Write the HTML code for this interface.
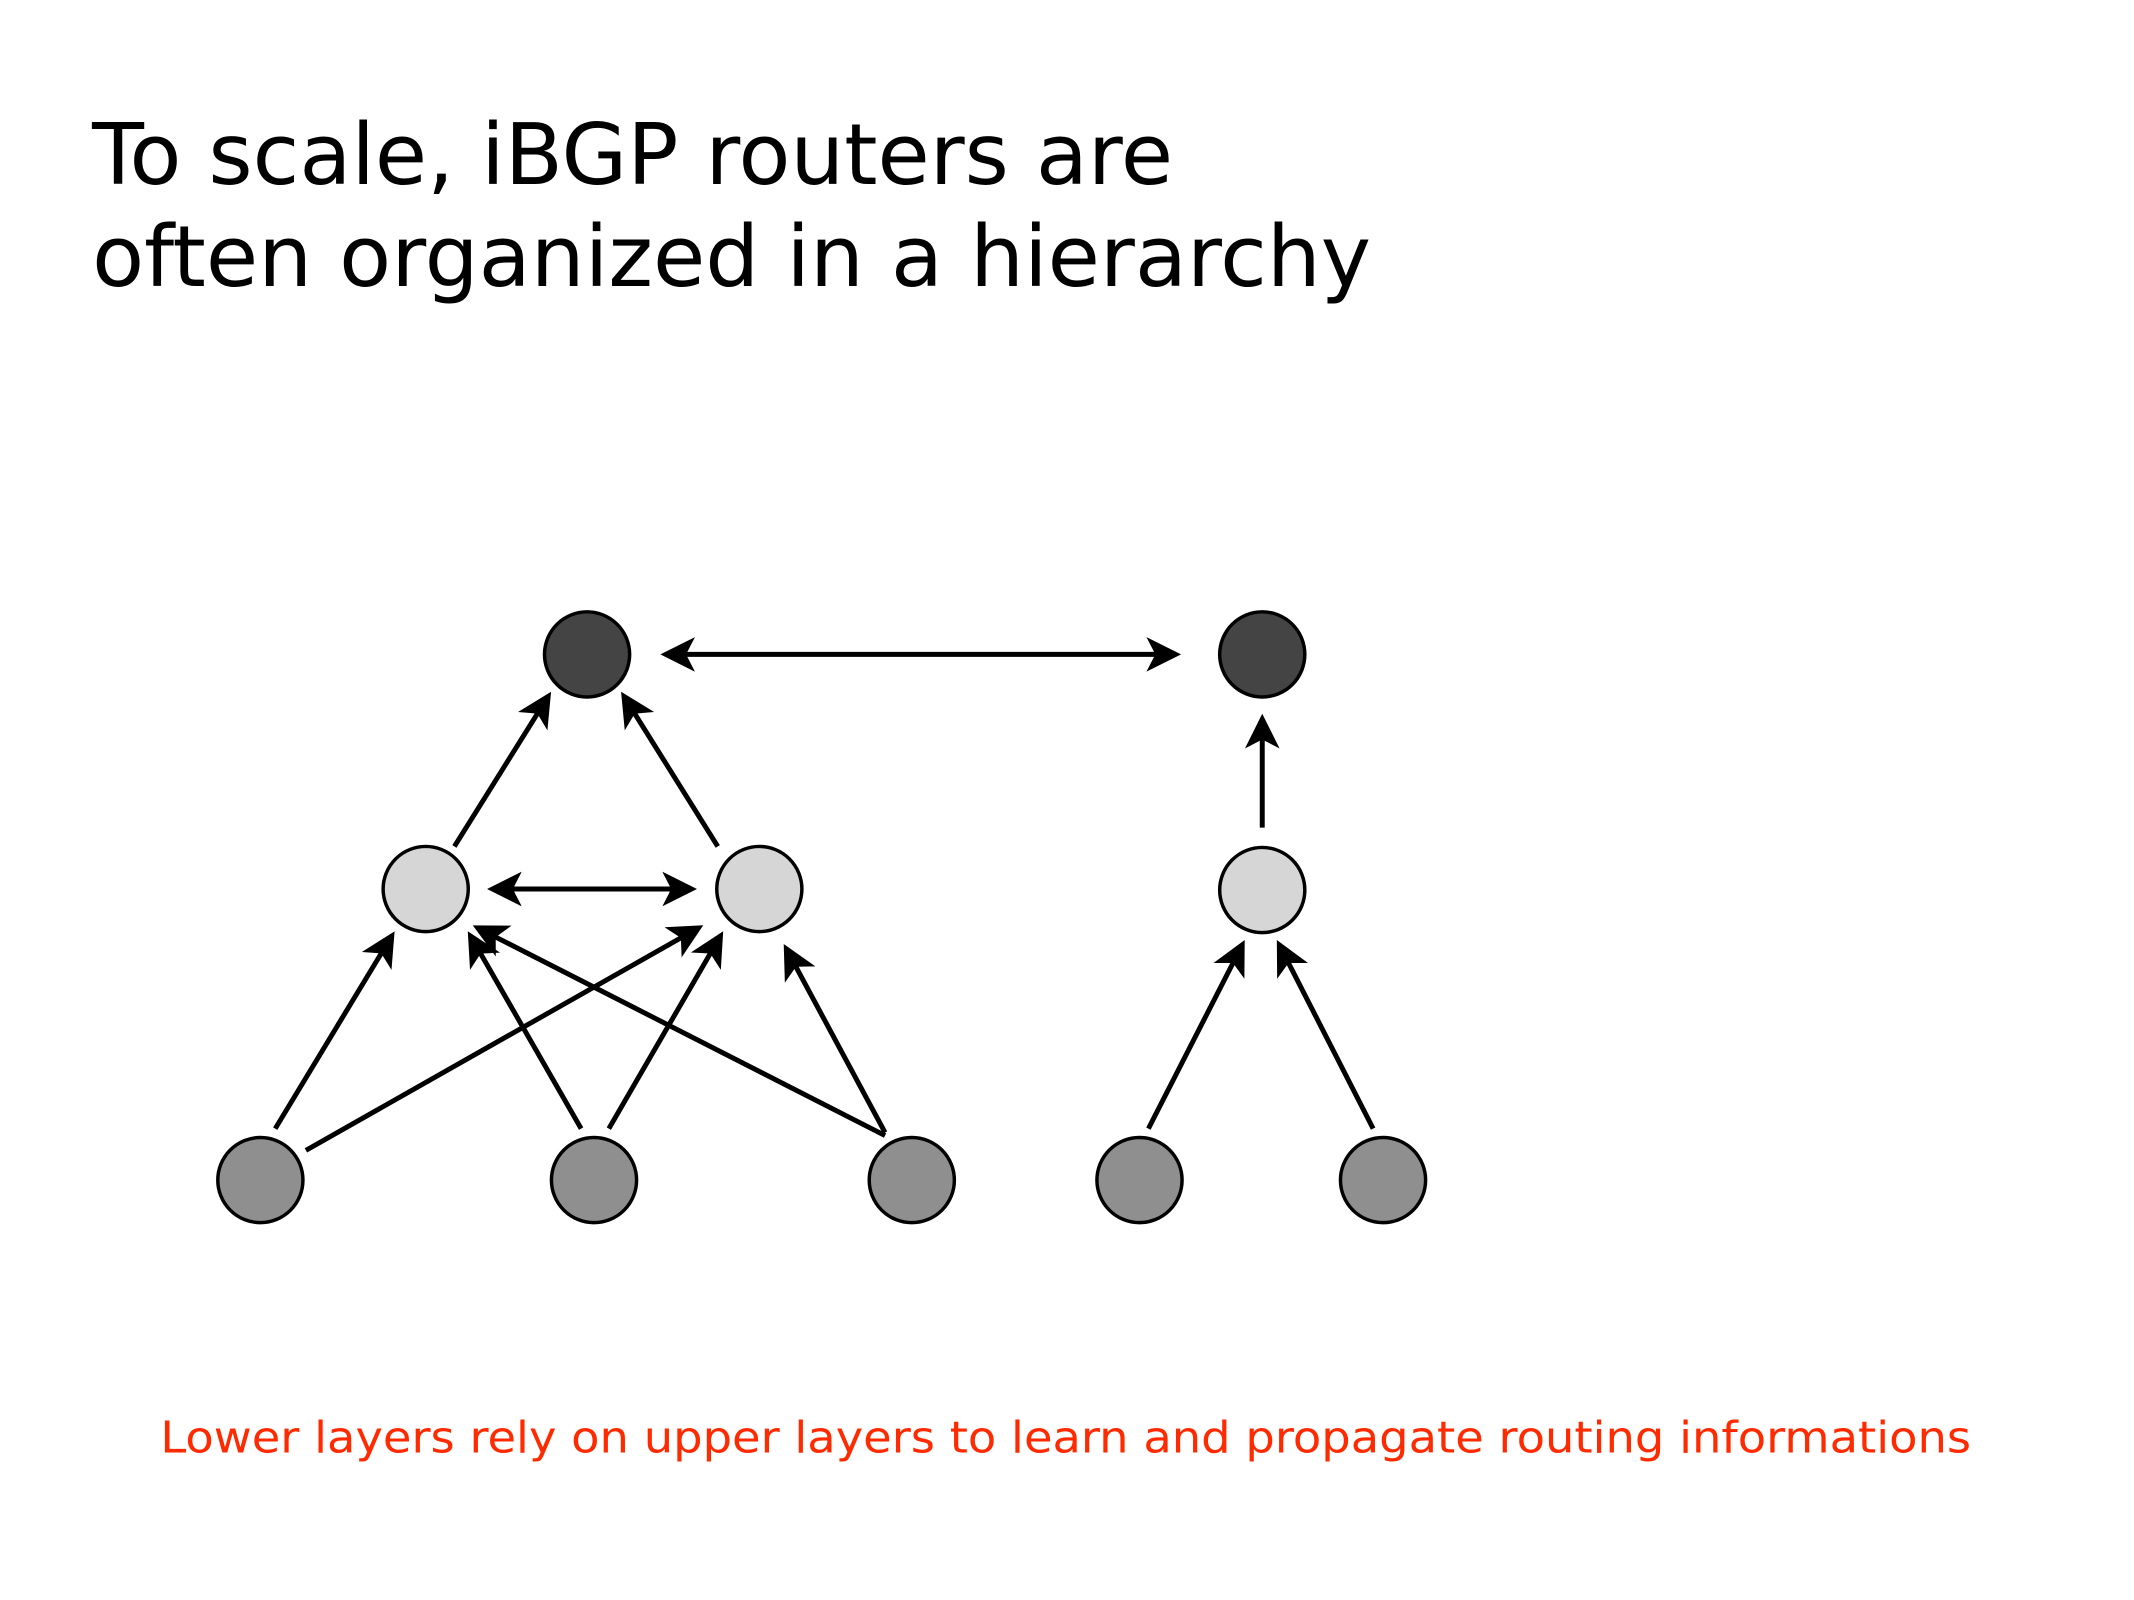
<!DOCTYPE html>
<html><head><meta charset="utf-8"><style>html,body{margin:0;padding:0;background:#fff;}svg{display:block}</style></head>
<body>
<svg width="2134" height="1600" viewBox="0 0 2134 1600" xmlns="http://www.w3.org/2000/svg">
<defs>
<marker id="a" markerWidth="8" markerHeight="8" refX="6" refY="4" orient="auto-start-reverse" markerUnits="strokeWidth">
<path d="M0,0.5 L7,4 L0,7.5 L1.8,4 Z" fill="#000"/>
</marker>
</defs>
<g transform="scale(0.99)">
<text x="93" y="186" font-family="DejaVu Sans, Liberation Sans, sans-serif" font-size="86" textLength="1092" lengthAdjust="spacingAndGlyphs" fill="#000">To scale, iBGP routers are</text>
<text x="93" y="289" font-family="DejaVu Sans, Liberation Sans, sans-serif" font-size="86" textLength="1292" lengthAdjust="spacingAndGlyphs" fill="#000">often organized in a hierarchy</text>
<g stroke="#000" stroke-width="5" fill="none">
<line x1="672" y1="661" x2="1188" y2="661" marker-start="url(#a)" marker-end="url(#a)"/>
<line x1="497" y1="898" x2="699" y2="898" marker-start="url(#a)" marker-end="url(#a)"/>
<line x1="459" y1="855" x2="554" y2="703" marker-end="url(#a)"/>
<line x1="725" y1="855" x2="630" y2="703" marker-end="url(#a)"/>
<line x1="1275" y1="836" x2="1275" y2="726" marker-end="url(#a)"/>
<line x1="278" y1="1140" x2="396" y2="945" marker-end="url(#a)"/>
<line x1="309" y1="1162" x2="706" y2="937" marker-end="url(#a)"/>
<line x1="587" y1="1140" x2="475" y2="945" marker-end="url(#a)"/>
<line x1="615" y1="1140" x2="728" y2="945" marker-end="url(#a)"/>
<line x1="894" y1="1147" x2="482" y2="937" marker-end="url(#a)"/>
<line x1="894" y1="1144" x2="794" y2="958" marker-end="url(#a)"/>
<line x1="1160" y1="1140" x2="1255" y2="954" marker-end="url(#a)"/>
<line x1="1387" y1="1140" x2="1292" y2="954" marker-end="url(#a)"/>
</g>
<g stroke="#000" stroke-width="3.5">
<circle cx="593" cy="661" r="43" fill="#444"/>
<circle cx="1275" cy="661" r="43" fill="#444"/>
<circle cx="430" cy="898" r="43" fill="#d6d6d6"/>
<circle cx="767" cy="898" r="43" fill="#d6d6d6"/>
<circle cx="1275" cy="899" r="43" fill="#d6d6d6"/>
<circle cx="263" cy="1192" r="43" fill="#8f8f8f"/>
<circle cx="600" cy="1192" r="43" fill="#8f8f8f"/>
<circle cx="921" cy="1192" r="43" fill="#8f8f8f"/>
<circle cx="1151" cy="1192" r="43" fill="#8f8f8f"/>
<circle cx="1397" cy="1192" r="43" fill="#8f8f8f"/>
</g>
<text x="162" y="1467" font-family="DejaVu Sans, Liberation Sans, sans-serif" font-size="44" textLength="1829" lengthAdjust="spacingAndGlyphs" fill="#ff2a00">Lower layers rely on upper layers to learn and propagate routing informations</text>
</g>
</svg>
</body></html>
